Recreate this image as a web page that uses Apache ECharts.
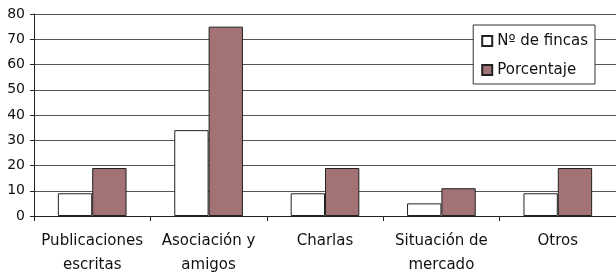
<!DOCTYPE html>
<html>
<head>
<meta charset="utf-8">
<script src="https://cdn.jsdelivr.net/npm/echarts@6/dist/echarts.min.js"></script>
<style>
  html, body { margin: 0; padding: 0; background: #fff; }
  #chart { width: 616px; height: 277px; }
</style>
</head>
<body>
<div id="chart"></div>
<script>
const categories = ['Publicaciones\nescritas', 'Asociación y\namigos', 'Charlas', 'Situación de\nmercado', 'Otros']
const fincas = [9, 34, 9, 5, 9]
const porcentaje = [19, 75, 19, 11, 19]

const chart = echarts.init(document.getElementById('chart'))

// texto ancho como en el original
const font = 'DejaVu Sans, Verdana, sans-serif'

chart.setOption({
  animation: false,
  textStyle: { fontFamily: font },
  grid: { left: 34, right: 0, top: 14, bottom: 58 },
  legend: {
    orient: 'vertical',
    right: 21,
    top: 25,
    icon: 'rect',
    itemWidth: 10,
    itemHeight: 10,
    itemGap: 11,
    padding: [7, 7, 5, 8],
    backgroundColor: '#fff',
    borderColor: '#333',
    borderWidth: 1,
    textStyle: { fontSize: 15, color: '#111', fontFamily: font, lineHeight: 18 },
    data: ['Nº de fincas', 'Porcentaje'],
  },
  xAxis: {
    type: 'category',
    data: categories,
    axisLine: { lineStyle: { color: '#222', width: 1 } },
    axisTick: { show: true, length: 5, lineStyle: { color: '#222' } },
    axisLabel: { fontSize: 15, lineHeight: 24, color: '#111', margin: 13, interval: 0 },
  },
  yAxis: {
    type: 'value',
    min: 0,
    max: 80,
    interval: 10,
    axisLine: { show: true, lineStyle: { color: '#222', width: 1 } },
    axisTick: { show: true, length: 4, lineStyle: { color: '#222' } },
    axisLabel: { fontSize: 14, color: '#111', margin: 9 },
    splitLine: { lineStyle: { color: '#555', width: 1 } },
  },
  series: [
    {
      name: 'Nº de fincas',
      type: 'bar',
      data: fincas,
      barGap: '0%',
      barCategoryGap: '41%',
      itemStyle: { color: '#fff', borderColor: '#222', borderWidth: 1 },
    },
    {
      name: 'Porcentaje',
      type: 'bar',
      data: porcentaje,
      itemStyle: { color: '#a27275', borderColor: '#222', borderWidth: 1 },
    },
  ],
})
</script>
</body>
</html>
